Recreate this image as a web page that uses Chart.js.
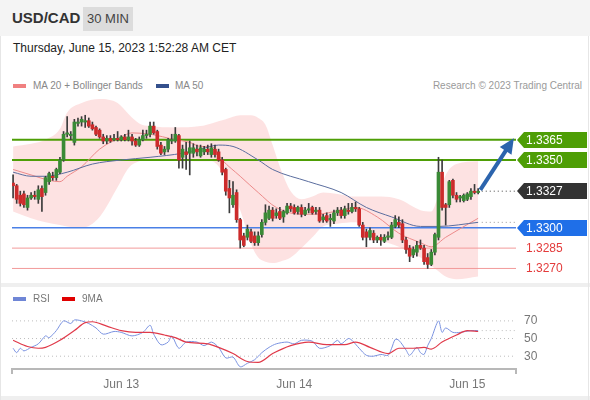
<!DOCTYPE html>
<html>
<head>
<meta charset="utf-8">
<script src="https://cdn.jsdelivr.net/npm/chart.js@4.4.0/dist/chart.umd.min.js"></script>
<style>
  body { margin:0; width:590px; height:400px; background:#fff; position:relative; overflow:hidden;
         font-family:"Liberation Sans", Arial, Helvetica, sans-serif; }
  .abs { position:absolute; }
  #hdr { left:0; top:0; width:590px; height:36px; background:#f4f4f4; }
  #pair { left:12px; top:9px; font-size:15px; font-weight:bold; color:#333; }
  #tf { left:83px; top:7px; width:50px; height:24px; background:#dcdcdc; color:#444; font-size:13px;
        line-height:24px; text-align:center; }
  #date { left:13px; top:41px; font-size:12px; color:#222; }
  .leg { font-size:10px; color:#888; }
  .sw { height:4px; width:13px; }
  #sep { left:0; top:283px; width:590px; height:4px; background:#efefef; }
  #bot { left:0; top:396px; width:590px; height:4px; background:#efefef; }
  #edgeL { left:0; top:36px; width:1px; height:364px; background:#e6e6e6; }
  #edgeR { left:588px; top:36px; width:1px; height:364px; background:#e6e6e6; }
  canvas { position:absolute; left:0; }
</style>
</head>
<body>
<div id="hdr" class="abs"></div>
<div id="pair" class="abs">USD/CAD</div>
<div id="tf" class="abs">30 MIN</div>
<div id="date" class="abs">Thursday, June 15, 2023 1:52:28 AM CET</div>
<div id="sep" class="abs"></div>
<div id="bot" class="abs"></div>
<div id="edgeL" class="abs"></div>
<div id="edgeR" class="abs"></div>

<div class="abs sw" style="left:13px;top:84px;background:#f08080"></div>
<div class="abs leg" style="left:33px;top:80px">MA 20 + Bollinger Bands</div>
<div class="abs sw" style="left:156px;top:84px;background:#34508c"></div>
<div class="abs leg" style="left:175px;top:80px">MA 50</div>
<div class="abs leg" style="right:8px;top:80px;color:#9a9a9a">Research © 2023 Trading Central</div>

<canvas id="main" width="590" height="190" style="top:95px"></canvas>
<canvas id="rsi" width="590" height="95" style="top:300px"></canvas>

<div class="abs sw" style="left:13px;top:297px;background:#6f86d6"></div>
<div class="abs leg" style="left:33px;top:293px;color:#777">RSI</div>
<div class="abs sw" style="left:62px;top:297px;background:#e00000"></div>
<div class="abs leg" style="left:82px;top:293px;color:#777">9MA</div>

<script>
// 30 min candles, index 0 = Jun 12 09:00
const open = [1.3333,1.3331,1.3324,1.3325,1.3315,1.3322,1.3324,1.3321,1.3329,1.3326,
  1.3334,1.3338,1.3337,1.3341,1.3350,1.3369,1.3368,1.3363,1.3377,1.3378,
  1.3378,1.3379,1.3376,1.3374,1.3372,1.3367,1.3364,1.3366,1.3365,1.3366,
  1.3365,1.3367,1.3365,1.3367,1.3364,1.3361,1.3365,1.3368,1.3369,1.3375,
  1.3371,1.3361,1.3356,1.3358,1.3364,1.3364,1.3368,1.3352,1.3356,1.3355,
  1.3355,1.3358,1.3353,1.3356,1.3358,1.3354,1.3358,1.3356,1.3350,1.3343,
  1.3329,1.3317,1.3326,1.3306,1.3294,1.3293,1.3297,1.3294,1.3289,1.3295,
  1.3304,1.3307,1.3313,1.3309,1.3312,1.3308,1.3311,1.3316,1.3315,1.3312,
  1.3315,1.3310,1.3313,1.3315,1.3312,1.3313,1.3306,1.3309,1.3306,1.3305,
  1.3311,1.3313,1.3309,1.3313,1.3312,1.3315,1.3314,1.3302,1.3297,1.3293,
  1.3296,1.3291,1.3293,1.3290,1.3293,1.3293,1.3301,1.3304,1.3303,1.3291,
  1.3285,1.3280,1.3282,1.3287,1.3285,1.3278,1.3273,1.3282,1.3293,1.3341,
  1.3317,1.3317,1.3335,1.3324,1.3322,1.3320,1.3321,1.3323,1.3327,1.3326];
const high = [1.3339,1.3332,1.3327,1.3327,1.3324,1.3326,1.3327,1.3331,1.3331,1.3338,
  1.3341,1.3341,1.3344,1.3352,1.3371,1.3382,1.3371,1.3380,1.3381,1.3382,
  1.3383,1.3381,1.3378,1.3375,1.3373,1.3369,1.3368,1.3368,1.3369,1.3371,
  1.3368,1.3369,1.3372,1.3369,1.3366,1.3367,1.3372,1.3372,1.3378,1.3378,
  1.3372,1.3363,1.3360,1.3366,1.3369,1.3374,1.3369,1.3361,1.3363,1.3364,
  1.3362,1.3361,1.3361,1.3360,1.3361,1.3362,1.3361,1.3358,1.3352,1.3344,
  1.3335,1.3334,1.3328,1.3307,1.3296,1.3302,1.3299,1.3297,1.3297,1.3306,
  1.3317,1.3316,1.3315,1.3314,1.3315,1.3313,1.3318,1.3318,1.3317,1.3316,
  1.3317,1.3315,1.3318,1.3316,1.3315,1.3315,1.3310,1.3311,1.3310,1.3313,
  1.3315,1.3315,1.3316,1.3318,1.3318,1.3319,1.3315,1.3304,1.3299,1.3300,
  1.3298,1.3294,1.3295,1.3295,1.3297,1.3304,1.3309,1.3308,1.3306,1.3293,
  1.3287,1.3286,1.3290,1.3291,1.3287,1.3281,1.3284,1.3296,1.3352,1.3350,
  1.3318,1.3335,1.3336,1.3326,1.3324,1.3325,1.3326,1.3329,1.3332,1.3329];
const low = [1.3322,1.3318,1.3316,1.3315,1.3313,1.3321,1.3321,1.3318,1.3312,1.3324,
  1.3332,1.3335,1.3335,1.3340,1.3349,1.3367,1.3365,1.3361,1.3375,1.3375,
  1.3374,1.3374,1.3372,1.3368,1.3366,1.3362,1.3362,1.3363,1.3364,1.3364,
  1.3364,1.3364,1.3364,1.3361,1.3360,1.3360,1.3364,1.3366,1.3367,1.3369,
  1.3358,1.3354,1.3354,1.3356,1.3362,1.3363,1.3344,1.3344,1.3343,1.3339,
  1.3352,1.3353,1.3352,1.3354,1.3354,1.3352,1.3352,1.3349,1.3339,1.3324,
  1.3311,1.3315,1.3304,1.3285,1.3286,1.3291,1.3289,1.3287,1.3287,1.3293,
  1.3302,1.3306,1.3305,1.3307,1.3306,1.3304,1.3310,1.3312,1.3310,1.3310,
  1.3308,1.3309,1.3311,1.3310,1.3310,1.3304,1.3304,1.3304,1.3301,1.3303,
  1.3309,1.3307,1.3307,1.3310,1.3311,1.3312,1.3301,1.3291,1.3286,1.3291,
  1.3289,1.3289,1.3287,1.3289,1.3291,1.3292,1.3300,1.3300,1.3289,1.3281,
  1.3275,1.3278,1.3279,1.3284,1.3273,1.3270,1.3272,1.3280,1.3291,1.3313,
  1.3302,1.3315,1.3322,1.3319,1.3319,1.3319,1.3320,1.3321,1.3325,1.3325];
const close = [1.3331,1.3321,1.3318,1.3317,1.3322,1.3324,1.3323,1.3328,1.3323,1.3337,
  1.3340,1.3337,1.3343,1.3350,1.3369,1.3370,1.3369,1.3378,1.3378,1.3380,
  1.3379,1.3375,1.3373,1.3369,1.3367,1.3364,1.3366,1.3364,1.3366,1.3365,
  1.3367,1.3365,1.3367,1.3364,1.3361,1.3365,1.3368,1.3369,1.3375,1.3370,
  1.3360,1.3355,1.3358,1.3365,1.3365,1.3369,1.3350,1.3358,1.3354,1.3359,
  1.3359,1.3356,1.3359,1.3358,1.3356,1.3359,1.3354,1.3350,1.3341,1.3327,
  1.3322,1.3324,1.3306,1.3291,1.3287,1.3299,1.3290,1.3289,1.3294,1.3304,
  1.3311,1.3313,1.3307,1.3311,1.3307,1.3312,1.3316,1.3314,1.3311,1.3315,
  1.3310,1.3313,1.3314,1.3311,1.3313,1.3305,1.3308,1.3305,1.3307,1.3311,
  1.3313,1.3309,1.3314,1.3312,1.3315,1.3314,1.3302,1.3293,1.3293,1.3298,
  1.3291,1.3293,1.3291,1.3293,1.3294,1.3302,1.3306,1.3302,1.3291,1.3284,
  1.3279,1.3284,1.3287,1.3285,1.3275,1.3273,1.3282,1.3295,1.3341,1.3315,
  1.3315,1.3334,1.3324,1.3321,1.3323,1.3324,1.3325,1.3327,1.3326,1.3327];

// Bollinger bands (shared sample indices)
const bandIdx = [0,5,9,13,15,19,24,29,32,35,38,45,52,55,59,63,66,68,70,72,74,77,80,83,86,90,95,102,107,113,116,118,120,123,129];
const bandUpper = [1.3360,1.3362,1.3365,1.3373,1.3385,1.3392,1.3395,1.3392,1.3384,1.3377,1.3375,1.3374,1.3375,1.3377,1.3380,1.3383,1.3383,1.3381,1.3376,1.3361,1.3345,1.3327,1.3321,1.3323,1.3326,1.3325,1.3323,1.3323,1.3321,1.3313,1.3312,1.3324,1.3339,1.3347,1.3349];
const bandLower = [1.3312,1.3307,1.3304,1.3302,1.3301,1.3300,1.3308,1.3330,1.3344,1.3349,1.3350,1.3350,1.3349,1.3349,1.3337,1.3313,1.3288,1.3278,1.3275,1.3274,1.3275,1.3278,1.3285,1.3293,1.3301,1.3303,1.3304,1.3291,1.3286,1.3278,1.3272,1.3268,1.3264,1.3262,1.3264];

const ma20Idx = [0,5,10,13,15,19,24,30,33,38,45,49,52,55,58,63,68,73,80,84,91,95,101,107,113,116,120,129];
const ma20 = [1.3343,1.3339,1.3335,1.3334,1.3338,1.3345,1.3358,1.3367,1.3370,1.3369,1.3365,1.3363,1.3360,1.3360,1.3350,1.3338,1.3326,1.3315,1.3310,1.3310,1.3313,1.3315,1.3308,1.3296,1.3289,1.3286,1.3293,1.3307];
const ma50Idx = [0,5,9,15,22,30,38,47,52,57,61,68,72,82,91,98,105,113,118,129];
const ma50 = [1.3341,1.3338,1.3338,1.3341,1.3347,1.3350,1.3352,1.3355,1.3358,1.3361,1.3360,1.3350,1.3343,1.3334,1.3326,1.3315,1.3308,1.3301,1.3301,1.3304];

// price levels on the right
const levelValues = [1.3365, 1.3350, 1.3327, 1.3300, 1.3285, 1.3270];
const levelLabels = ['1.3365', '1.3350', '1.3327', '1.3300', '1.3285', '1.3270'];
const lastPrice = 1.3327;
const lastMa50 = 1.3304;
const arrowFrom = [129.6, 1.3328];
const arrowTo = [138.9, 1.3366];

// RSI panel
const rsiIdx = [0,1,2,3,5,7,9,10,12,14,16,17,19,21,23,25,28,30,33,36,38,39,41,43,44,46,48,51,53,55,57,59,61,63,65,67,69,71,73,76,78,80,83,85,88,90,91,93,94,96,98,100,102,104,105,106,107,109,110,112,113,114,115,116,118,119,120,122,124,127,129];
const rsi = [39,34,39,36,40,44,53,51,59,70,67,71,70,67,62,55,58,57,53,57,65,55,43,46,53,39,46,46,42,46,40,28,29,18,22,26,34,40,44,46,44,48,47,39,42,48,44,50,48,39,31,30,32,31,39,49,48,37,31,40,34,32,42,50,70,57,62,57,57,59,59];
const ma9Idx = [0,4,7,9,13,17,20,22,26,30,34,38,42,45,48,54,57,61,65,68,72,77,82,87,92,95,99,104,107,111,114,116,119,123,126,129];
const ma9 = [48,41,39,40,48,59,68,69,64,59,57,57,54,51,46,44,40,33,24,23,33,42,46,43,43,46,40,33,39,39,40,38,46,54,59,58];
const rsiLevels = [30, 50, 70];
const rsiLast = 59;

const dayIdx = [30, 78, 126];
const dayLabels = ['Jun 13', 'Jun 14', 'Jun 15'];

const X_MIN = -0.3, X_MAX = 139.5;
const FONT = '"Liberation Sans", Arial, Helvetica, sans-serif';

function pts(xs, ys) {
    return xs.map((x, k) => ({ x: x, y: ys[k] }));
}
function hline(v, color, width, dash, from) {
    return {
        type: 'line', data: [{ x: from === undefined ? X_MIN : from, y: v }, { x: X_MAX, y: v }],
        borderColor: color, borderWidth: width, borderDash: dash || [], pointRadius: 0, fill: false, order: 5
    };
}

const up = open.map((o, i) => close[i] >= o);
const candleIdx = open.map((o, i) => i);

const levelColors = ['#4e9e06', '#4e9e06', null, '#4a80e6', '#f29a9a', '#f29a9a'];
const levelWidths = [2, 2, 0, 1.5, 1, 1];
const tagFill = ['#4e9e06', '#4e9e06', '#333333', '#1f6fe8', null, null];
const tagText = ['#fff', '#fff', '#fff', '#fff', '#e33b3b', '#e33b3b'];

const levelSets = [];
levelValues.forEach((v, k) => {
    if (levelColors[k]) levelSets.push(hline(v, levelColors[k], levelWidths[k]));
});

const tagPlugin = {
    id: 'tags',
    afterDraw(chart) {
        const { ctx, chartArea, scales: { x, y } } = chart;
        ctx.save();
        // arrow
        const x0 = x.getPixelForValue(arrowFrom[0]), y0 = y.getPixelForValue(arrowFrom[1]);
        const x1 = x.getPixelForValue(arrowTo[0]), y1 = y.getPixelForValue(arrowTo[1]);
        const a = Math.atan2(y1 - y0, x1 - x0);
        const head = 15, half = 7;
        ctx.strokeStyle = '#2c64ad';
        ctx.fillStyle = '#2c64ad';
        ctx.lineWidth = 4;
        ctx.beginPath();
        ctx.moveTo(x0, y0);
        ctx.lineTo(x1 - Math.cos(a) * head * 0.8, y1 - Math.sin(a) * head * 0.8);
        ctx.stroke();
        ctx.beginPath();
        ctx.moveTo(x1, y1);
        ctx.lineTo(x1 - head * Math.cos(a) + half * Math.sin(a), y1 - head * Math.sin(a) - half * Math.cos(a));
        ctx.lineTo(x1 - head * Math.cos(a) - half * Math.sin(a), y1 - head * Math.sin(a) + half * Math.cos(a));
        ctx.closePath();
        ctx.fill();

        // level tags
        ctx.font = '12px ' + FONT;
        ctx.textBaseline = 'middle';
        const left = chartArea.right;
        levelValues.forEach((v, k) => {
            const py = Math.round(y.getPixelForValue(v));
            if (tagFill[k]) {
                ctx.fillStyle = tagFill[k];
                ctx.beginPath();
                ctx.moveTo(left + 1, py);
                ctx.lineTo(left + 8, py - 8);
                ctx.lineTo(587, py - 8);
                ctx.lineTo(587, py + 8);
                ctx.lineTo(left + 8, py + 8);
                ctx.closePath();
                ctx.fill();
            }
            ctx.fillStyle = tagText[k];
            ctx.fillText(levelLabels[k], left + 10, py + 1);
        });
        ctx.restore();
    }
};

new Chart(document.getElementById('main'), {
    type: 'line',
    data: {
        datasets: [
            { data: pts(bandIdx, bandUpper), borderWidth: 0, pointRadius: 0, fill: false,
              cubicInterpolationMode: 'monotone', order: 10 },
            { data: pts(bandIdx, bandLower), borderWidth: 0, pointRadius: 0, fill: '-1',
              backgroundColor: 'rgba(250,185,185,0.42)', cubicInterpolationMode: 'monotone', order: 10 },
            ...levelSets,
            hline(lastPrice, '#444', 1, [1, 3], 130),
            hline(lastMa50, '#999', 1, [1, 3], 130),
            { data: pts(ma50Idx, ma50), borderColor: '#5a6d9e', borderWidth: 1, pointRadius: 0,
              cubicInterpolationMode: 'monotone', fill: false, order: 4 },
            { data: pts(ma20Idx, ma20), borderColor: '#ec8a8a', borderWidth: 1, pointRadius: 0,
              cubicInterpolationMode: 'monotone', fill: false, order: 4 },
            { type: 'bar', data: pts(candleIdx, low.map((l, i) => [l, high[i]])),
              backgroundColor: '#3b3b3b', barThickness: 1, grouped: false, order: 2 },
            { type: 'bar', data: pts(candleIdx, open.map((o, i) => [o, close[i]])),
              backgroundColor: up.map(u => u ? '#3a8a36' : '#cc2b2b'), barThickness: 3,
              minBarLength: 1, grouped: false, order: 1 }
        ]
    },
    options: {
        responsive: false, animation: false, events: [],
        layout: { padding: { left: 12, right: 74, top: 4, bottom: 3 } },
        plugins: { legend: { display: false }, tooltip: { enabled: false } },
        scales: {
            x: { type: 'linear', min: X_MIN, max: X_MAX, offset: false, display: false },
            y: { min: 1.3260, max: 1.3395, display: false }
        }
    },
    plugins: [tagPlugin]
});

const axisEnds = {
    id: 'axisEnds',
    afterDraw(chart) {
        const { ctx, chartArea: { left, right, bottom } } = chart;
        ctx.save();
        ctx.strokeStyle = '#b8b8b8';
        ctx.lineWidth = 2;
        ctx.beginPath();
        ctx.moveTo(left, bottom);
        ctx.lineTo(left, bottom + 5);
        ctx.moveTo(right, bottom);
        ctx.lineTo(right, bottom + 5);
        ctx.stroke();
        ctx.restore();
    }
};

new Chart(document.getElementById('rsi'), {
    type: 'line',
    data: {
        datasets: [
            ...rsiLevels.map(v => hline(v, '#bdbdbd', 1, [1, 3])),
            hline(rsiLast, '#bdbdbd', 1, [1, 3], 130),
            { data: pts(rsiIdx, rsi), borderColor: '#7b93e0', borderWidth: 1, pointRadius: 0,
              tension: 0.3, fill: false, order: 2 },
            { data: pts(ma9Idx, ma9), borderColor: '#e03a4a', borderWidth: 1.2, pointRadius: 0,
              cubicInterpolationMode: 'monotone', fill: false, order: 1 }
        ]
    },
    options: {
        responsive: false, animation: false, events: [],
        layout: { padding: { left: 12, right: 0, top: 6, bottom: 0 } },
        plugins: { legend: { display: false }, tooltip: { enabled: false } },
        scales: {
            x: {
                type: 'linear', min: X_MIN, max: X_MAX, offset: false,
                afterBuildTicks: s => { s.ticks = dayIdx.map(v => ({ value: v })); },
                afterFit: s => { s.height = 26; },
                ticks: {
                    callback: v => dayLabels[dayIdx.indexOf(v)],
                    color: '#777', font: { size: 12, family: FONT }, padding: 8,
                    autoSkip: false, maxRotation: 0
                },
                grid: { display: false, drawTicks: false },
                border: { color: '#b8b8b8', width: 2 }
            },
            y: {
                position: 'right', min: 15.5, max: 85.5,
                afterBuildTicks: s => { s.ticks = rsiLevels.map(v => ({ value: v })); },
                afterFit: s => { s.width = 74; },
                ticks: { color: '#777', font: { size: 12, family: FONT }, padding: 0 },
                grid: { display: false },
                border: { display: false }
            }
        }
    },
    plugins: [axisEnds]
});
</script>
</body>
</html>
